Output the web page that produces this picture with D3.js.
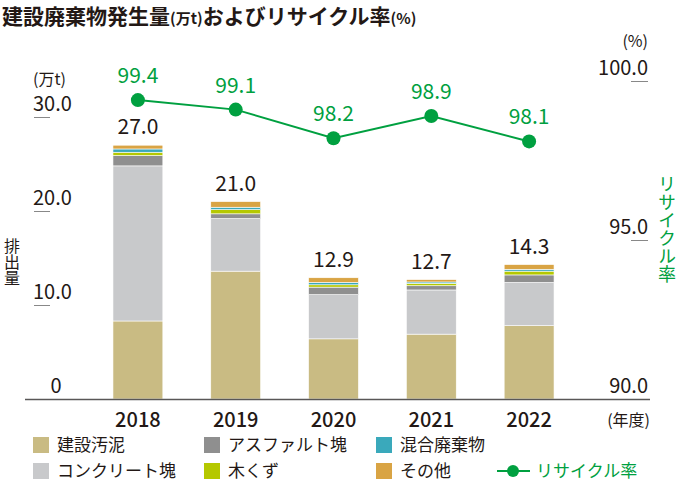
<!DOCTYPE html>
<html>
<head>
<meta charset="utf-8">
<script src="https://cdn.jsdelivr.net/npm/d3@7.9.0/dist/d3.min.js"></script>
<style>
  body { margin: 0; background: #fff; }
  svg { display: block; }
  text { font-family: 'Noto Sans CJK JP', 'Noto Sans', sans-serif; fill: #231815; }
  .vert { writing-mode: vertical-rl; }
</style>
</head>
<body>
<svg id="chart" width="680" height="492"></svg>
<script>
// 年度
var years = ['2018', '2019', '2020', '2021', '2022']
// 発生量（万t）下から順に積み上げ
var sludge = [8.3, 13.6, 6.4, 6.9, 7.8]       // 建設汚泥
var concrete = [16.5, 5.6, 4.7, 4.7, 4.6]     // コンクリート塊
var asphalt = [1.1, 0.5, 0.8, 0.45, 0.8]      // アスファルト塊
var wood = [0.35, 0.45, 0.25, 0.25, 0.4]      // 木くず
var mixed = [0.35, 0.25, 0.25, 0.15, 0.2]     // 混合廃棄物
var other = [0.4, 0.6, 0.5, 0.25, 0.5]        // その他
var totals = [27.0, 21.0, 12.9, 12.7, 14.3]
// リサイクル率（%）
var recycleRate = [99.4, 99.1, 98.2, 98.9, 98.1]
var leftTicks = [0, 10, 20, 30]
var rightTicks = [90, 95, 100]

var GREEN = '#00a040'
var series = [
    { key: 'sludge', name: '建設汚泥', values: sludge, color: '#c9bb83' },
    { key: 'concrete', name: 'コンクリート塊', values: concrete, color: '#c8c9cb' },
    { key: 'asphalt', name: 'アスファルト塊', values: asphalt, color: '#8f8f8f' },
    { key: 'wood', name: '木くず', values: wood, color: '#b5c800' },
    { key: 'mixed', name: '混合廃棄物', values: mixed, color: '#3aa9bb' },
    { key: 'other', name: 'その他', values: other, color: '#d9a444' }
]

var svg = d3.select('#chart')

var x = d3.scaleBand().domain(years).range([89, 578]).paddingInner(0.49).paddingOuter(0.245)
var yL = d3.scaleLinear().domain([0, 30]).range([399, 117])
var yR = d3.scaleLinear().domain([90, 100]).range([399, 81])

// title
var title = svg.append('text').attr('x', 2).attr('y', 24).attr('font-size', 21).attr('font-weight', 700)
title.append('tspan').text('建設廃棄物発生量')
title.append('tspan').attr('font-size', 15).text('(万t)')
title.append('tspan').text('およびリサイクル率')
title.append('tspan').attr('font-size', 15).text('(%)')

// stacked bars
var rows = years.map(function (y, i) {
    var r = { year: y }
    series.forEach(function (s) { r[s.key] = s.values[i] })
    return r
})
var stack = d3.stack().keys(series.map(function (s) { return s.key }))(rows)

svg.append('g').selectAll('g')
    .data(stack)
    .enter().append('g')
    .attr('fill', function (d, i) { return series[i].color })
    .selectAll('rect')
    .data(function (d) { return d })
    .enter().append('rect')
    .attr('x', function (d) { return x(d.data.year) })
    .attr('width', x.bandwidth())
    .attr('y', function (d) { return yL(d[1]) })
    .attr('height', function (d) { return yL(d[0]) - yL(d[1]) })
    .attr('stroke', '#fff')
    .attr('stroke-width', 0.6)

// baseline
svg.append('line').attr('x1', 25).attr('x2', 650).attr('y1', 399.5).attr('y2', 399.5)
    .attr('stroke', '#595757').attr('stroke-width', 1.5)

// left axis
var lg = svg.append('g')
leftTicks.forEach(function (v) {
    var yy = yL(v)
    if (v > 0) {
        lg.append('line').attr('x1', 34).attr('x2', 50).attr('y1', yy + 0.5).attr('y2', yy + 0.5)
            .attr('stroke', '#888').attr('stroke-width', 1)
        lg.append('text').attr('x', 33).attr('y', yy - 6).attr('font-size', 20).text(d3.format('.1f')(v))
    } else {
        lg.append('text').attr('x', 56).attr('y', yy - 6).attr('font-size', 20).attr('text-anchor', 'middle').text('0')
    }
})
svg.append('text').attr('x', 33).attr('y', 85).attr('font-size', 16).text('(万t)')

// right axis
var rg = svg.append('g')
rightTicks.forEach(function (v) {
    var yy = yR(v)
    if (v > 90) {
        rg.append('line').attr('x1', 631).attr('x2', 648).attr('y1', yy + 0.5).attr('y2', yy + 0.5)
            .attr('stroke', '#888').attr('stroke-width', 1)
    }
    rg.append('text').attr('x', 648).attr('y', yy - 6).attr('font-size', 20).attr('text-anchor', 'end')
        .text(d3.format('.1f')(v))
})
svg.append('text').attr('x', 648).attr('y', 47).attr('font-size', 16).attr('text-anchor', 'end').text('(%)')

// vertical axis titles
svg.append('text').attr('class', 'vert').attr('x', 12).attr('y', 238).attr('font-size', 16).text('排出量')
svg.append('text').attr('class', 'vert').attr('x', 667).attr('y', 175).attr('font-size', 18)
    .style('fill', GREEN).text('リサイクル率')

// year labels
years.forEach(function (y) {
    svg.append('text').attr('x', x(y) + x.bandwidth() / 2).attr('y', 427).attr('font-size', 20)
        .attr('font-weight', 500).attr('text-anchor', 'middle').text(y)
})
svg.append('text').attr('x', 650).attr('y', 426).attr('font-size', 16).attr('text-anchor', 'end').text('(年度)')

// totals
years.forEach(function (y, i) {
    svg.append('text').attr('x', x(y) + x.bandwidth() / 2).attr('y', yL(totals[i]) - 11).attr('font-size', 21)
        .attr('text-anchor', 'middle').text(d3.format('.1f')(totals[i]))
})

// recycle rate line
var cx = function (d, i) { return x(years[i]) + x.bandwidth() / 2 }
svg.append('path').datum(recycleRate)
    .attr('d', d3.line().x(cx).y(function (d) { return yR(d) }))
    .attr('fill', 'none').attr('stroke', GREEN).attr('stroke-width', 2)
svg.append('g').selectAll('circle').data(recycleRate).enter().append('circle')
    .attr('cx', cx).attr('cy', function (d) { return yR(d) }).attr('r', 7).attr('fill', GREEN)
svg.append('g').selectAll('text').data(recycleRate).enter().append('text')
    .attr('x', cx).attr('y', function (d) { return yR(d) - 17 }).attr('font-size', 21)
    .attr('text-anchor', 'middle').style('fill', GREEN).text(function (d) { return d3.format('.1f')(d) })

// legend
var legendItems = [
    { s: 0, x: 33, row: 0 }, { s: 2, x: 204, row: 0 }, { s: 4, x: 376, row: 0 },
    { s: 1, x: 33, row: 1 }, { s: 3, x: 204, row: 1 }, { s: 5, x: 376, row: 1 }
]
var rowY = [445, 471]
var leg = svg.append('g')
legendItems.forEach(function (it) {
    var s = series[it.s]
    leg.append('rect').attr('x', it.x).attr('y', rowY[it.row] - 8).attr('width', 16).attr('height', 16).attr('fill', s.color)
    leg.append('text').attr('x', it.x + 24).attr('y', rowY[it.row] + 6).attr('font-size', 17).text(s.name)
})
leg.append('line').attr('x1', 497).attr('x2', 530).attr('y1', rowY[1]).attr('y2', rowY[1])
    .attr('stroke', GREEN).attr('stroke-width', 2)
leg.append('circle').attr('cx', 513).attr('cy', rowY[1]).attr('r', 6).attr('fill', GREEN)
leg.append('text').attr('x', 536).attr('y', rowY[1] + 6).attr('font-size', 17).style('fill', GREEN).text('リサイクル率')
</script>
</body>
</html>
